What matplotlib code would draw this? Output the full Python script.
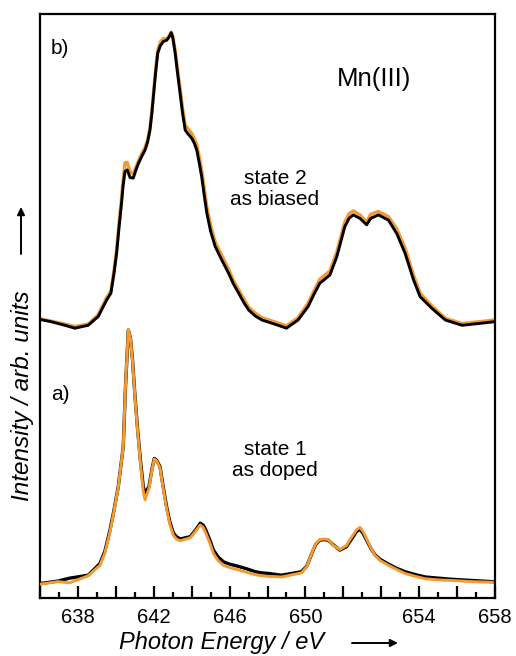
import matplotlib
matplotlib.use("Agg")
import matplotlib.pyplot as plt
from matplotlib.ticker import MultipleLocator, FixedLocator, FixedFormatter

plt.rcParams['font.family'] = ['Liberation Sans', 'DejaVu Sans']

# panel a) state 1 / as doped -- energies (eV) and two measured traces
energy_a = [636.07, 636.95, 637.57, 638.54, 639.16, 639.42, 639.69, 639.90, 640.13, 640.39,
            640.51, 640.66, 640.77, 640.88, 641.00, 641.15, 641.30, 641.45, 641.54, 641.75,
            641.90, 642.03, 642.15, 642.33, 642.50, 642.68, 642.85, 643.04, 643.20, 643.39,
            643.92, 644.20, 644.45, 644.60, 644.71, 644.95, 645.15, 645.40, 645.68, 646.00,
            646.48, 646.90, 647.36, 647.70, 648.06, 648.74, 649.79, 650.06, 650.20, 650.41,
            650.55, 650.76, 651.00, 651.20, 651.47, 651.82, 652.17, 652.35, 652.52, 652.70,
            652.88, 653.05, 653.23, 653.45, 653.67, 653.95, 654.38, 654.80, 655.26, 655.80,
            656.32, 657.00, 657.73, 658.79, 659.85]
a_black = [2.5, 2.9, 3.4, 3.9, 5.9, 8.0, 11.6, 15.0, 19.1, 25.9,
           36.2, 45.9, 44.5, 40.8, 35.0, 28.8, 23.5, 19.0, 17.9, 19.1,
           22.0, 23.9, 23.6, 22.5, 19.0, 15.6, 13.0, 11.1, 10.5, 10.1,
           10.5, 11.6, 12.8, 12.5, 11.9, 10.0, 8.2, 7.0, 6.2, 5.8,
           5.4, 5.0, 4.5, 4.3, 4.2, 3.9, 4.5, 5.4, 6.5, 8.2,
           9.2, 9.9, 10.0, 9.9, 9.1, 8.2, 8.8, 9.7, 10.5, 11.4,
           11.8, 11.0, 9.9, 8.5, 7.4, 6.6, 5.8, 5.1, 4.5, 4.0,
           3.6, 3.4, 3.2, 3.0, 2.8]
a_orange = [2.4, 2.8, 2.6, 3.8, 5.6, 7.7, 11.3, 14.8, 19.0, 25.9,
            36.4, 46.0, 44.4, 40.6, 34.8, 28.5, 23.0, 18.2, 16.8, 18.8,
            21.8, 23.8, 23.5, 22.3, 18.7, 15.3, 12.6, 10.7, 10.1, 9.8,
            10.3, 11.4, 12.5, 12.1, 11.4, 9.5, 7.6, 6.4, 5.6, 5.2,
            4.8, 4.4, 4.0, 3.8, 3.7, 3.6, 4.3, 5.3, 6.5, 8.3,
            9.3, 10.0, 10.1, 10.0, 9.0, 8.3, 9.0, 10.0, 10.8, 11.7,
            12.1, 11.3, 10.1, 8.6, 7.3, 6.4, 5.6, 4.9, 4.2, 3.7,
            3.3, 3.1, 3.0, 2.8, 2.7]

# panel b) state 2 / as biased
energy_b = [636.00, 636.60, 637.31, 637.84, 638.54, 639.07, 639.51, 639.74, 639.90, 640.04,
            640.17, 640.30, 640.38, 640.48, 640.60, 640.75, 640.92, 641.05, 641.19, 641.35,
            641.54, 641.67, 641.80, 641.90, 641.98, 642.10, 642.21, 642.35, 642.51, 642.68,
            642.80, 642.92, 643.00, 643.13, 643.25, 643.39, 643.52, 643.66, 643.80, 644.01,
            644.15, 644.27, 644.40, 644.53, 644.66, 644.80, 645.00, 645.24, 645.60, 645.95,
            646.20, 646.48, 646.75, 647.01, 647.35, 647.71, 648.56, 649.00, 649.61, 650.14,
            650.45, 650.76, 651.29, 651.65, 652.08, 652.30, 652.52, 652.88, 653.23, 653.44,
            653.85, 654.38, 654.82, 655.26, 655.70, 656.05, 656.67, 657.38, 658.26, 659.14,
            659.93]
b_black = [47.7, 47.3, 46.7, 46.2, 46.7, 48.2, 51.0, 52.2, 55.5, 59.0,
           63.5, 67.6, 70.5, 73.0, 73.3, 72.0, 71.9, 73.2, 74.4, 75.5,
           76.7, 78.0, 80.1, 83.0, 85.8, 90.0, 93.3, 94.6, 95.3, 95.5,
           96.0, 96.8, 96.0, 93.3, 90.0, 86.4, 83.0, 80.1, 79.5, 78.7,
           77.8, 76.7, 74.5, 72.1, 69.0, 65.9, 62.8, 60.2, 57.8, 55.6,
           53.8, 52.2, 50.6, 49.3, 48.3, 47.6, 46.7, 46.2, 47.6, 49.9,
           52.0, 53.9, 55.3, 58.4, 63.6, 65.0, 65.6, 65.0, 63.9, 65.0,
           65.6, 64.7, 62.4, 59.0, 54.5, 51.6, 49.6, 47.6, 46.7, 47.0,
           47.3]
b_orange = [47.8, 47.4, 46.9, 46.5, 46.9, 48.5, 51.4, 52.6, 56.0, 59.6,
            64.2, 68.4, 71.5, 74.5, 74.6, 73.0, 72.6, 73.7, 74.8, 76.0,
            77.1, 78.4, 80.5, 83.4, 86.2, 90.5, 93.8, 95.2, 95.8, 95.7,
            96.2, 96.9, 96.3, 93.8, 90.7, 87.2, 83.8, 81.0, 80.4, 79.5,
            78.6, 77.6, 75.5, 73.3, 70.2, 67.0, 63.8, 61.0, 58.6, 56.3,
            54.4, 52.8, 51.2, 49.8, 48.8, 48.0, 47.1, 46.6, 48.0, 50.5,
            52.6, 54.6, 56.0, 59.2, 64.4, 65.8, 66.3, 65.6, 64.4, 65.7,
            66.2, 65.3, 63.2, 59.9, 55.3, 52.2, 50.0, 47.9, 47.0, 47.3,
            47.6]

major_ticks = [636, 638, 640, 642, 644, 646, 648, 650, 652, 654, 656, 658, 660]
tick_text = ['', '638', '', '642', '', '646', '', '650', '', '', '654', '', '658']

orange = '#f39a33'

fig = plt.figure(figsize=(5.16, 6.56), dpi=100)
ax = fig.add_axes([40/516, 1-598/656, 455/516, 584/656])

ax.plot(energy_b, b_orange, color=orange, lw=2.4, zorder=2)
ax.plot(energy_b, b_black, color='black', lw=2.1, zorder=3)
ax.plot(energy_a, a_black, color='black', lw=2.4, zorder=2)
ax.plot(energy_a, a_orange, color=orange, lw=2.1, zorder=3)

ax.set_xlim(636, 660)
ax.set_ylim(0, 100)
ax.xaxis.set_major_locator(FixedLocator(major_ticks))
ax.xaxis.set_major_formatter(FixedFormatter(tick_text))
ax.xaxis.set_minor_locator(MultipleLocator(1))
ax.tick_params(axis='x', which='major', direction='in', length=8.6, width=1.6,
               labelsize=14.5, pad=7)
ax.tick_params(axis='x', which='minor', direction='in', length=4.3, width=1.6)
ax.set_yticks([])
for s in ax.spines.values():
    s.set_linewidth(1.6)

def fx(px):
    return px / 516

def fy(py):
    return 1 - py / 656

fig.text(fx(60), fy(49), 'b)', fontsize=15, ha='center', va='center')
fig.text(fx(60), fy(395), 'a)', fontsize=15, ha='center', va='center')
fig.text(fx(374), fy(79), 'Mn(III)', fontsize=18.5, ha='center', va='center')
fig.text(fx(275), fy(189), 'state 2\nas biased', fontsize=15, ha='center', va='center',
         linespacing=1.15)
fig.text(fx(275), fy(460), 'state 1\nas doped', fontsize=15, ha='center', va='center',
         linespacing=1.15)

fig.text(fx(222), fy(642), 'Photon Energy / eV', fontsize=17, style='italic',
         ha='center', va='center')
fig.text(fx(23), fy(396), 'Intensity / arb. units', fontsize=17.5, style='italic',
         ha='center', va='center', rotation=90)

arrow = dict(arrowstyle='-|>', lw=1.4, color='black', mutation_scale=11, shrinkA=0, shrinkB=0)
ax.annotate('', xy=(fx(398), fy(643)), xytext=(fx(352), fy(643)),
            xycoords='figure fraction', textcoords='figure fraction', arrowprops=arrow)
ax.annotate('', xy=(fx(21), fy(207)), xytext=(fx(21), fy(254)),
            xycoords='figure fraction', textcoords='figure fraction', arrowprops=arrow)

fig.savefig('out.png', dpi=100)
